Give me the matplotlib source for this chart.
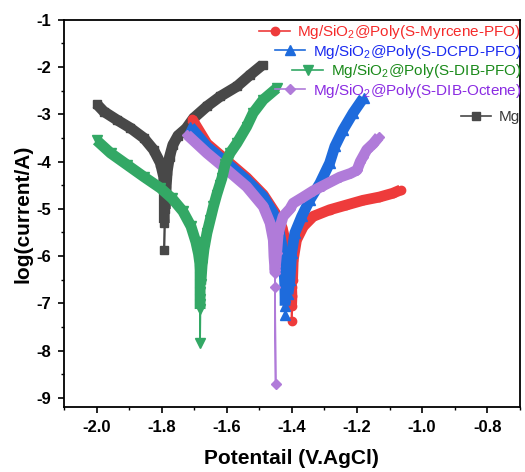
import matplotlib
matplotlib.use("Agg")
import matplotlib.pyplot as plt
from matplotlib.ticker import MultipleLocator

plt.rcParams['font.family'] = ['Liberation Sans', 'DejaVu Sans']
plt.rcParams['mathtext.fontset'] = 'custom'
plt.rcParams['mathtext.rm'] = 'Liberation Sans'
plt.rcParams['mathtext.it'] = 'Liberation Sans:italic'
plt.rcParams['mathtext.bf'] = 'Liberation Sans:bold'

# ---------------- data (potential V vs AgCl, log(current/A)) ----------------
# Mg
mg_cat_E = [-2.000, -1.978, -1.937, -1.896, -1.855, -1.825, -1.804, -1.794, -1.792, -1.792, -1.792]
mg_cat_I = [-2.78, -2.94, -3.12, -3.29, -3.50, -3.75, -4.03, -4.32, -4.60, -4.95, -5.30]
mg_tip_E = [-1.792]
mg_tip_I = [-5.87]
mg_an_E = [-1.789, -1.787, -1.783, -1.776, -1.766, -1.750, -1.725, -1.702, -1.661, -1.620, -1.569, -1.529, -1.490]
mg_an_I = [-5.00, -4.60, -4.20, -3.90, -3.65, -3.45, -3.30, -3.08, -2.83, -2.62, -2.41, -2.17, -1.95]

# Mg/SiO2@Poly(S-DIB-PFO)
dib_cat_E = [-2.000, -1.957, -1.906, -1.855, -1.804, -1.768, -1.735, -1.710, -1.695, -1.687, -1.683,
             -1.682, -1.682, -1.682, -1.682, -1.682, -1.682, -1.682]
dib_cat_I = [-3.55, -3.82, -4.07, -4.32, -4.56, -4.78, -5.05, -5.37, -5.70, -5.95, -6.15,
             -6.30, -6.45, -6.60, -6.75, -6.90, -7.02, -7.12]
dib_tip_E = [-1.682]
dib_tip_I = [-7.84]
dib_an_E = [-1.680, -1.676, -1.670, -1.661, -1.651, -1.641, -1.631, -1.622, -1.615, -1.605, -1.590,
            -1.569, -1.539, -1.519, -1.488, -1.447]
dib_an_I = [-6.60, -6.20, -5.85, -5.51, -5.23, -4.95, -4.70, -4.50, -4.35, -4.05, -3.82,
            -3.61, -3.26, -2.97, -2.69, -2.45]

# Mg/SiO2@Poly(S-DCPD-PFO)
dcpd_cat_E = [-1.712, -1.661, -1.600, -1.539, -1.488, -1.457, -1.442, -1.432, -1.427, -1.424, -1.422, -1.421, -1.421]
dcpd_cat_I = [-3.26, -3.68, -4.03, -4.39, -4.74, -5.09, -5.37, -5.73, -6.08, -6.29, -6.57, -6.86, -7.05]
dcpd_tip_E = [-1.421]
dcpd_tip_I = [-7.24]
dcpd_an_E = [-1.412, -1.406, -1.401, -1.391, -1.370, -1.345, -1.314, -1.284, -1.268, -1.243, -1.212, -1.180]
dcpd_an_I = [-6.80, -6.50, -5.94, -5.51, -5.16, -4.81, -4.46, -4.03, -3.68, -3.33, -2.97, -2.65]

# Mg/SiO2@Poly(S-Myrcene-PFO)
myr_cat_E = [-1.707, -1.661, -1.600, -1.539, -1.488, -1.452, -1.430, -1.418, -1.410, -1.405, -1.401, -1.400, -1.401]
myr_cat_I = [-3.10, -3.62, -3.98, -4.34, -4.70, -5.08, -5.40, -5.75, -6.10, -6.40, -6.65, -6.85, -7.05]
myr_tip_E = [-1.401]
myr_tip_I = [-7.38]
myr_an_E = [-1.398, -1.396, -1.386, -1.365, -1.335, -1.284, -1.233, -1.182, -1.131, -1.090, -1.066]
myr_an_I = [-6.50, -6.08, -5.66, -5.37, -5.16, -5.02, -4.92, -4.82, -4.75, -4.67, -4.60]

# Mg/SiO2@Poly(S-DIB-Octene)
oct_cat_E = [-1.722, -1.661, -1.600, -1.539, -1.488, -1.467, -1.457, -1.455, -1.453, -1.452]
oct_cat_I = [-3.43, -3.82, -4.17, -4.53, -4.95, -5.30, -5.66, -6.01, -6.20, -6.36]
oct_tip_E = [-1.452, -1.450]
oct_tip_I = [-6.66, -8.71]
oct_an_E = [-1.452, -1.447, -1.442, -1.427, -1.406, -1.396, -1.365, -1.335, -1.304, -1.253,
            -1.220, -1.200, -1.190, -1.182, -1.170, -1.150, -1.132]
oct_an_I = [-6.30, -5.94, -5.51, -5.16, -5.00, -4.88, -4.75, -4.62, -4.51, -4.33,
            -4.25, -4.18, -4.00, -3.90, -3.75, -3.62, -3.47]

labels = [r'Mg/SiO$_2$@Poly(S-Myrcene-PFO)', r'Mg/SiO$_2$@Poly(S-DCPD-PFO)',
          r'Mg/SiO$_2$@Poly(S-DIB-PFO)', r'Mg/SiO$_2$@Poly(S-DIB-Octene)', 'Mg']
x_ticks = [-2.0, -1.8, -1.6, -1.4, -1.2, -1.0, -0.8]
x_ticklabels = ['-2.0', '-1.8', '-1.6', '-1.4', '-1.2', '-1.0', '-0.8']
y_ticks = [-1, -2, -3, -4, -5, -6, -7, -8, -9]
y_ticklabels = ['-1', '-2', '-3', '-4', '-5', '-6', '-7', '-8', '-9']

line_colors = ['#ee3b3b', '#1e6bdc', '#33a865', '#b07bd9', '#484848']
text_colors = ['#f52a2a', '#1a2af0', '#1a8a1a', '#8a2be2', '#3a3a3a']
markers = ['o', '^', 'v', 'D', 's']

series = [
    (myr_cat_E, myr_cat_I, myr_tip_E, myr_tip_I, myr_an_E, myr_an_I),
    (dcpd_cat_E, dcpd_cat_I, dcpd_tip_E, dcpd_tip_I, dcpd_an_E, dcpd_an_I),
    (dib_cat_E, dib_cat_I, dib_tip_E, dib_tip_I, dib_an_E, dib_an_I),
    (oct_cat_E, oct_cat_I, oct_tip_E, oct_tip_I, oct_an_E, oct_an_I),
    (mg_cat_E, mg_cat_I, mg_tip_E, mg_tip_I, mg_an_E, mg_an_I),
]
zorders = [3, 4, 6, 5, 2]

# ---------------- figure ----------------
fig = plt.figure(figsize=(5.25, 4.72), dpi=100)
ax = fig.add_axes([0.122, 0.138, 0.868, 0.820])

handles = []
for (cE, cI, tE, tI, aE, aI), lab, lc, mk, z in zip(series, labels, line_colors, markers, zorders):
    ax.plot(cE, cI, color=lc, lw=7.8, solid_joinstyle='round', solid_capstyle='butt', zorder=z)
    ax.plot(aE, aI, color=lc, lw=7.8, solid_joinstyle='round', solid_capstyle='butt', zorder=z)
    E = cE + tE + aE
    I = cI + tI + aI
    ms = 6.5 if mk in ('^', 'v') else (5.2 if mk == 'D' else 6)
    h, = ax.plot(E, I, color=lc, lw=1.2, marker=mk, ms=ms, mfc=lc, mec=lc, zorder=z, label=lab)
    handles.append(h)

ax.set_xlim(-2.1, -0.7)
ax.set_ylim(-9.19, -1.0)
ax.set_xticks(x_ticks)
ax.set_xticklabels(x_ticklabels)
ax.set_yticks(y_ticks)
ax.set_yticklabels(y_ticklabels)
ax.xaxis.set_minor_locator(MultipleLocator(0.1))
ax.yaxis.set_minor_locator(MultipleLocator(0.5))
ax.tick_params(which='major', direction='out', length=4.5, width=1.2, labelsize=12, pad=5)
ax.tick_params(which='minor', direction='out', length=2.5, width=1.0)
for lbl in ax.get_xticklabels() + ax.get_yticklabels():
    lbl.set_fontweight('bold')
for sp in ax.spines.values():
    sp.set_linewidth(1.3)

ax.set_xlabel('Potentail (V.AgCl)', fontsize=15, fontweight='bold')
ax.set_ylabel('log(current/A)', fontsize=15, fontweight='bold')
ax.xaxis.set_label_coords(0.5, -0.110)
ax.yaxis.set_label_coords(-0.070, 0.5)

leg1 = ax.legend(handles=handles[:4], loc='upper right', bbox_to_anchor=(0.993, 0.951),
                 bbox_transform=fig.transFigure, frameon=False, fontsize=11,
                 handlelength=2.0, handletextpad=0.5, labelspacing=0.1,
                 borderpad=0, borderaxespad=0)
leg1._legend_handle_box.get_children()[0].align = 'right'
for t, c in zip(leg1.get_texts(), text_colors[:4]):
    t.set_color(c)
leg1.set_zorder(10)
ax.add_artist(leg1)

leg2 = ax.legend(handles=handles[4:], loc='center right', bbox_to_anchor=(0.991, 1 - 117 / 472),
                 bbox_transform=fig.transFigure, frameon=False, fontsize=11,
                 handlelength=2.0, handletextpad=0.5, borderpad=0, borderaxespad=0)
for t, c in zip(leg2.get_texts(), text_colors[4:]):
    t.set_color(c)
leg2.set_zorder(10)

fig.savefig('out.png', dpi=100)
